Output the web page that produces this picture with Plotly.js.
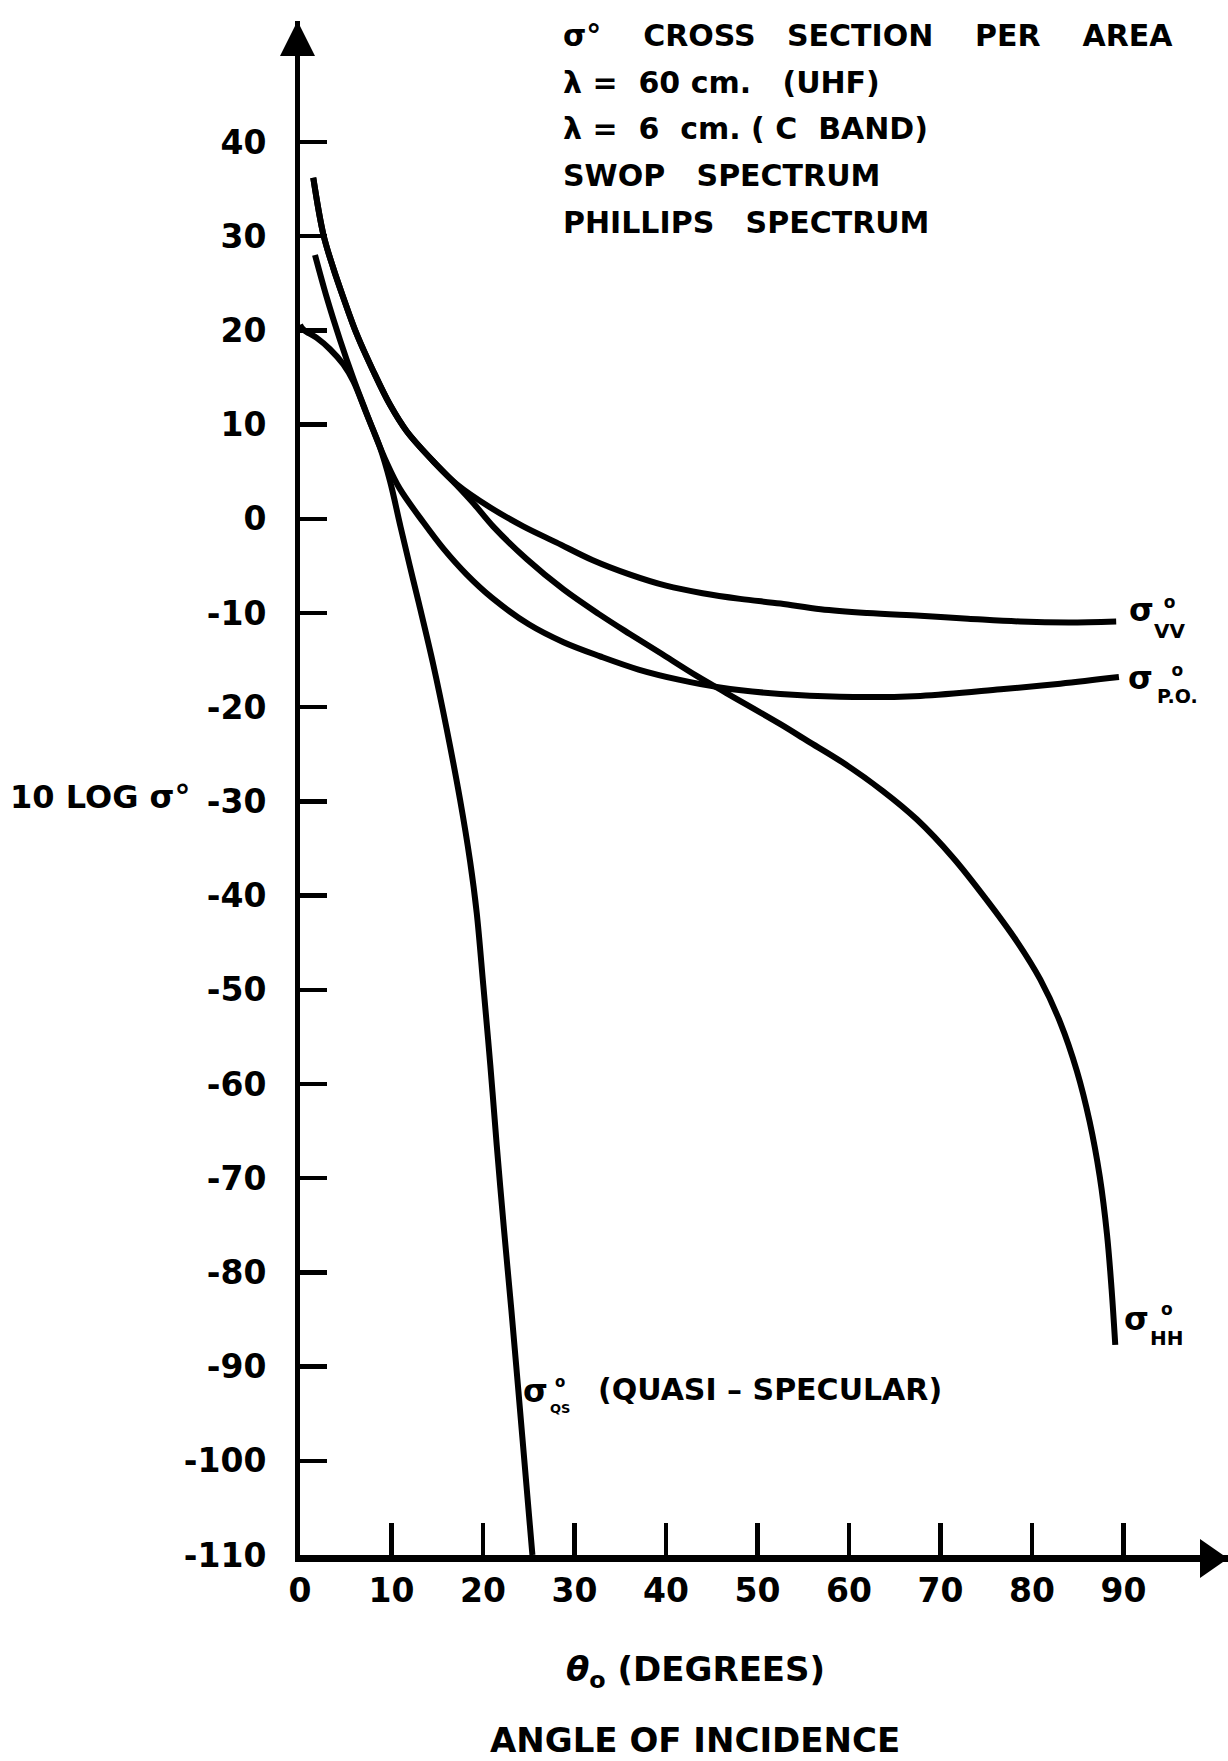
<!DOCTYPE html>
<html>
<head>
<meta charset="utf-8">
<script src="https://cdn.plot.ly/plotly-3.0.1.min.js"></script>
<style>html,body{margin:0;padding:0;background:#fff;}#chart{width:1228px;height:1761px;}</style>
</head>
<body>
<div id="chart"></div>
<script>
// ---- data ----
const thetaVV = [1.45, 2.55, 3.64, 4.73, 6.2, 8.0, 9.84, 11.66, 14.57, 17.1, 20.8, 24.4, 28.0, 32.0, 36.0, 40.0, 44.0, 48.1, 52.5, 56.9, 62.0, 67.8, 73.0, 78.7, 84.0, 89.2];
const sigmaVV = [36.2, 30.2, 26.6, 23.5, 19.6, 15.7, 12.1, 9.3, 6.1, 3.7, 1.2, -0.8, -2.5, -4.4, -5.9, -7.1, -7.9, -8.5, -9.0, -9.6, -10.0, -10.3, -10.6, -10.9, -11.0, -10.9];

const thetaHH = [1.45, 2.55, 3.64, 4.73, 6.2, 8.0, 9.84, 11.66, 14.57, 17.1, 19.0, 21.1, 24.8, 28.8, 32.8, 36.0, 39.3, 43.4, 46.6, 52.5, 55.5, 59.2, 63.7, 67.4, 71.4, 75.0, 78.3, 80.9, 83.1, 84.9, 86.3, 87.4, 88.2, 88.7, 89.1];
const sigmaHH = [36.2, 30.2, 26.6, 23.5, 19.6, 15.7, 12.1, 9.3, 6.1, 3.6, 1.6, -0.8, -4.3, -7.5, -10.2, -12.2, -14.2, -16.7, -18.5, -21.8, -23.6, -25.8, -28.9, -31.9, -36.0, -40.4, -44.8, -48.9, -53.5, -58.6, -64.0, -69.8, -76.0, -81.8, -87.7];

const thetaPO = [1.64, 2.92, 4.37, 5.83, 7.0, 8.0, 9.5, 10.9, 13.5, 15.7, 18.2, 21.0, 25.0, 28.8, 32.8, 37.0, 41.5, 45.9, 52.5, 59.0, 67.8, 76.6, 83.1, 89.5];
const sigmaPO = [28.0, 23.5, 19.0, 14.9, 11.9, 9.4, 5.9, 3.2, -0.4, -3.2, -5.9, -8.4, -11.2, -13.1, -14.6, -16.0, -17.1, -17.9, -18.6, -18.9, -18.8, -18.1, -17.5, -16.8];

const thetaQS = [0, 0.36, 1.83, 3.28, 4.73, 5.83, 7.29, 8.74, 9.84, 10.93, 12.0, 13.0, 14.57, 16.03, 17.49, 18.58, 19.31, 20.03, 20.8, 21.5, 22.3, 23.1, 24.3, 25.4];
const sigmaQS = [20.6, 20.1, 19.2, 18.0, 16.4, 14.6, 11.1, 7.6, 4.0, -0.6, -5.0, -9.0, -15.5, -22.3, -29.8, -36.3, -41.8, -49.5, -58.0, -66.5, -75.5, -84.0, -97.5, -110];

const xTickVals = [0, 10, 20, 30, 40, 50, 60, 70, 80, 90];
const xTickText = ["0", "10", "20", "30", "40", "50", "60", "70", "80", "90"];
const yTickVals = [40, 30, 20, 10, 0, -10, -20, -30, -40, -50, -60, -70, -80, -90, -100, -110];
const yTickText = ["40", "30", "20", "10", "0", "-10", "-20", "-30", "-40", "-50", "-60", "-70", "-80", "-90", "-100", "-110"];

const NB = "\u00a0";
const infoLines = [
  "σ°" + NB.repeat(4) + "CROSS" + NB.repeat(3) + "SECTION" + NB.repeat(4) + "PER" + NB.repeat(4) + "AREA",
  "λ" + NB + "=" + NB.repeat(2) + "60" + NB + "cm." + NB.repeat(3) + "(UHF)",
  "λ" + NB + "=" + NB.repeat(2) + "6" + NB.repeat(2) + "cm." + NB + "(" + NB + "C" + NB.repeat(2) + "BAND)",
  "SWOP" + NB.repeat(3) + "SPECTRUM",
  "PHILLIPS" + NB.repeat(3) + "SPECTRUM"
];

// ---- layout geometry (pixels) ----
const W = 1228, H = 1761;
const L = 300, R = 0, T = 21, B = 206;
const plotW = W - L - R, plotH = H - T - B;
const pxPerX = 9.15, pxPerY = 9.42;
const FONT = "DejaVu Sans";

function P(px, py) { return { x: (px - L) / plotW, y: (H - B - py) / plotH }; }
function pathPx(pts) {
  return "M " + pts.map(p => { const q = P(p[0], p[1]); return q.x + "," + q.y; }).join(" L ") + " Z";
}
function txt(text, px, py, size, opts) {
  const q = P(px, py);
  return Object.assign({
    xref: "paper", yref: "paper", x: q.x, y: q.y, text: text, showarrow: false,
    xanchor: "center", yanchor: "middle", borderpad: 0,
    font: { family: FONT, size: size, color: "#000", weight: "bold" }
  }, opts || {});
}

const lineStyle = { color: "#000", width: 6, shape: "spline", smoothing: 1.0 };
const traces = [
  { name: "σ° VV", x: thetaVV, y: sigmaVV, mode: "lines", line: lineStyle },
  { name: "σ° HH", x: thetaHH, y: sigmaHH, mode: "lines", line: lineStyle },
  { name: "σ° P.O.", x: thetaPO, y: sigmaPO, mode: "lines", line: lineStyle },
  { name: "σ° QS", x: thetaQS, y: sigmaQS, mode: "lines", line: lineStyle }
];

const annotations = [];
infoLines.forEach((s, i) => annotations.push(txt(s, 562, 36 + i * 46.5, 30, { xanchor: "left" })));

// curve labels: sigma, and a stacked "o over subscript"
function curveLabel(sx, sy, sub, bx, byTop, byBot, lineSize, oSize, subSize) {
  annotations.push(txt("σ", sx, sy - 2.5, 32));
  annotations.push(txt("<span style='font-size:" + oSize + "px'>o</span><br><span style='font-size:" + subSize + "px'>" + sub + "</span>",
    bx, (byTop + byBot) / 2, lineSize, { align: "center" }));
}
curveLabel(1141.7, 612.5, "VV", 1169, 602, 632.5, 23, 17, 20);
curveLabel(1140, 680, "P.O.", 1177, 670, 697.5, 21, 17, 19);
curveLabel(1136, 1321, "HH", 1166, 1309, 1339.5, 23, 17, 20);
curveLabel(535, 1393, "QS", 560, 1381, 1407.5, 20, 15, 13);
annotations.push(txt("(QUASI" + NB + "–" + NB + "SPECULAR)", 597, 1389, 30, { xanchor: "left" }));

// axis titles
annotations.push(txt("10 LOG σ°", 100, 797, 32));
annotations.push(txt("<i>θ</i><sub>o</sub>" + NB + "(DEGREES)", 695, 1671, 34));
annotations.push(txt("ANGLE OF INCIDENCE", 695, 1740, 34));

const shapes = [
  { type: "path", xref: "paper", yref: "paper", path: pathPx([[297.5, 21], [280, 56], [315, 56]]), fillcolor: "#000", line: { width: 0 } },
  { type: "path", xref: "paper", yref: "paper", path: pathPx([[1228, 1558.5], [1200, 1539], [1200, 1578]]), fillcolor: "#000", line: { width: 0 } }
];

const tickFont = { family: FONT, size: 33, color: "#000", weight: "bold" };
const layout = {
  width: W, height: H,
  margin: { l: L, r: R, t: T, b: B, pad: 0 },
  paper_bgcolor: "#fff", plot_bgcolor: "#fff",
  showlegend: false,
  xaxis: {
    range: [0, plotW / pxPerX],
    showline: true, linewidth: 7, linecolor: "#000",
    ticks: "inside", ticklen: 32, tickwidth: 4.5, tickcolor: "#000",
    tickmode: "array", tickvals: xTickVals, ticktext: xTickText,
    tickfont: tickFont,
    ticklabelstandoff: 0,
    showgrid: false, zeroline: false, fixedrange: true
  },
  yaxis: {
    range: [-110, -110 + plotH / pxPerY],
    showline: true, linewidth: 5, linecolor: "#000",
    ticks: "inside", ticklen: 27, tickwidth: 4.5, tickcolor: "#000",
    tickmode: "array", tickvals: yTickVals, ticktext: yTickText,
    tickfont: tickFont,
    ticklabelstandoff: 22,
    showgrid: false, zeroline: false, fixedrange: true
  },
  annotations: annotations,
  shapes: shapes
};

Plotly.newPlot("chart", traces, layout, { staticPlot: true, displayModeBar: false });
</script>
</body>
</html>
